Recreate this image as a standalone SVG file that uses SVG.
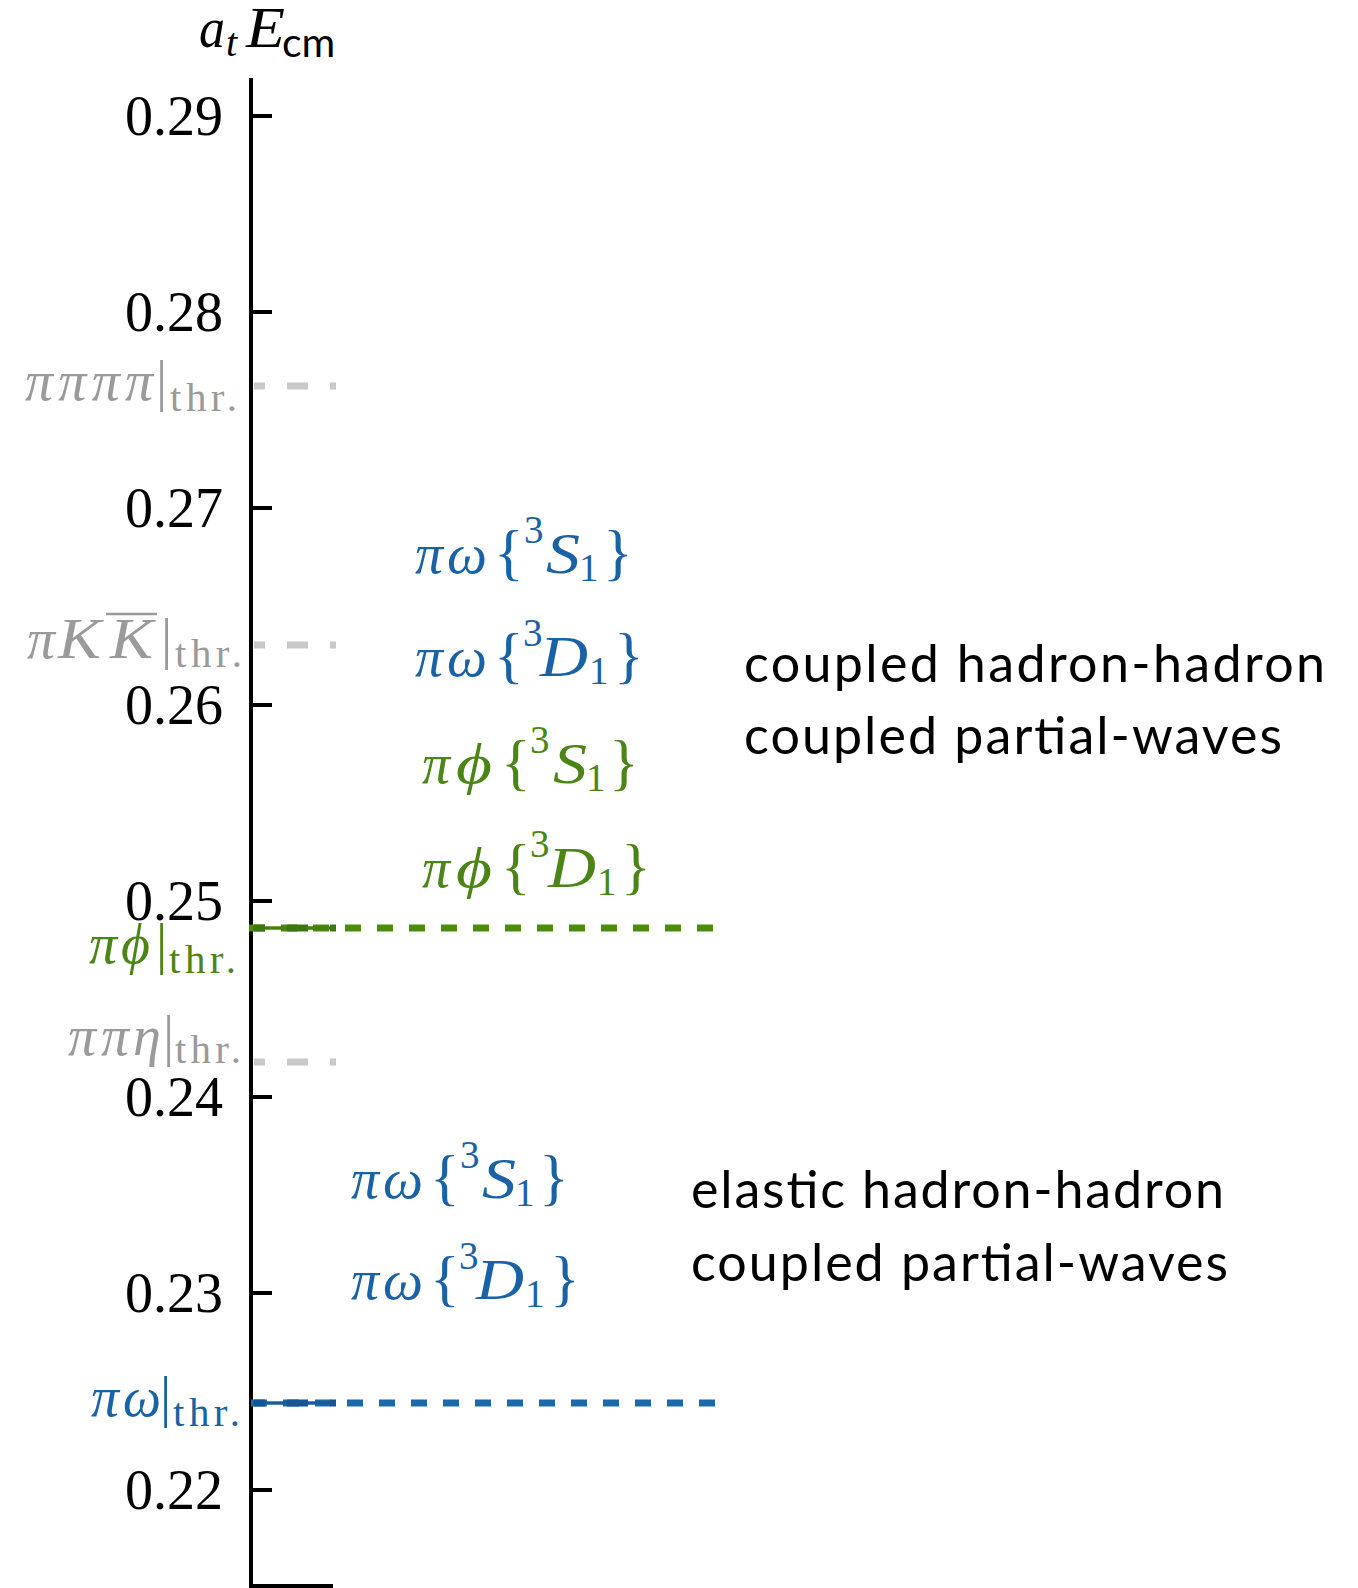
<svg xmlns="http://www.w3.org/2000/svg" width="1358" height="1588" viewBox="0 0 1358 1588">
<style>
.m{font-family:"Liberation Serif","DejaVu Serif",serif;}
.i{font-style:italic;}
.big{font-size:56px;}
.br{font-size:62px;}
.sm{font-size:39px;}
.thr{font-size:41px;}
.tick{font-family:"Liberation Serif",serif;font-size:56px;text-anchor:end;fill:#000;}
.sans{font-family:Lato,"Open Sans",sans-serif;font-size:52px;fill:#000;}
.blue{fill:#1a62a6;}
.green{fill:#4a8515;}
.gray{fill:#9a9a9a;}
</style>
<rect width="1358" height="1588" fill="#fff"/>
<g id="axis" stroke="#000" stroke-width="4" fill="none">
<line x1="251" y1="78" x2="251" y2="1588"/>
<line x1="249" y1="1586" x2="333" y2="1586"/>
<line x1="251" y1="116" x2="272" y2="116"/>
<line x1="251" y1="312" x2="272" y2="312"/>
<line x1="251" y1="508" x2="272" y2="508"/>
<line x1="251" y1="705" x2="272" y2="705"/>
<line x1="251" y1="901" x2="272" y2="901"/>
<line x1="251" y1="1097" x2="272" y2="1097"/>
<line x1="251" y1="1293" x2="272" y2="1293"/>
<line x1="251" y1="1490" x2="272" y2="1490"/>
</g>
<g id="axis-label" class="m">
<text y="47" font-size="56"><tspan x="199" class="i" textLength="26" lengthAdjust="spacingAndGlyphs">a</tspan><tspan x="226" y="56" class="i" font-size="40">t</tspan><tspan x="246" y="47" class="i" textLength="39" lengthAdjust="spacingAndGlyphs">E</tspan></text>
<text x="282" y="57" font-family="Lato,'Liberation Sans',sans-serif" font-size="41">cm</text>
</g>
<g id="tick-labels">
<text class="tick" x="223" y="135">0.29</text>
<text class="tick" x="223" y="331">0.28</text>
<text class="tick" x="223" y="527">0.27</text>
<text class="tick" x="223" y="724">0.26</text>
<text class="tick" x="223" y="920">0.25</text>
<text class="tick" x="223" y="1116">0.24</text>
<text class="tick" x="223" y="1312">0.23</text>
<text class="tick" x="223" y="1509">0.22</text>
</g>
<g id="connectors" fill="none">
<line x1="254" y1="386" x2="336" y2="386" stroke="#c8c8c8" stroke-width="7" stroke-dasharray="11 22 21 22"/>
<line x1="254" y1="645" x2="336" y2="645" stroke="#c8c8c8" stroke-width="7" stroke-dasharray="11 22 21 22"/>
<line x1="254" y1="1062" x2="336" y2="1062" stroke="#c8c8c8" stroke-width="7" stroke-dasharray="11 22 21 22"/>
<line x1="249" y1="928" x2="714" y2="928" stroke="#4e8c0b" stroke-width="7" stroke-dasharray="16 16"/>
<line x1="253" y1="928" x2="335" y2="928" stroke="#44800c" stroke-width="3.5"/>
<line x1="254" y1="928" x2="336" y2="928" stroke="#3e7610" stroke-width="7" stroke-dasharray="11 22 21 22"/>
<line x1="251" y1="1403" x2="715" y2="1403" stroke="#1c68ab" stroke-width="7" stroke-dasharray="16 16"/>
<line x1="253" y1="1403" x2="335" y2="1403" stroke="#185c9c" stroke-width="3.5"/>
<line x1="254" y1="1403" x2="336" y2="1403" stroke="#155596" stroke-width="7" stroke-dasharray="11 22 21 22"/>
</g>
<g id="thr-pipipipi" class="m gray">
<text y="400" class="big"><tspan x="25" class="i" textLength="128" lengthAdjust="spacing">ππππ</tspan><tspan x="156">|</tspan><tspan x="170" y="411" class="thr" textLength="67" lengthAdjust="spacing">thr.</tspan></text>
</g>
<g id="thr-piKK" class="m gray">
<text y="658" class="big"><tspan x="27" class="i">π</tspan><tspan x="58" class="i" textLength="43" lengthAdjust="spacingAndGlyphs">K</tspan><tspan x="110" class="i" textLength="43" lengthAdjust="spacingAndGlyphs">K</tspan><tspan x="161">|</tspan><tspan x="175" y="667" class="thr" textLength="67" lengthAdjust="spacing">thr.</tspan></text>
<line x1="106" y1="614" x2="157" y2="614" stroke="#9a9a9a" stroke-width="2.5"/>
</g>
<g id="thr-piphi" class="m green">
<text y="963" class="big"><tspan x="89" class="i">π</tspan><tspan x="121" class="i">ϕ</tspan><tspan x="156">|</tspan><tspan x="169" y="973" class="thr" textLength="67" lengthAdjust="spacing">thr.</tspan></text>
</g>
<g id="thr-pipieta" class="m gray">
<text y="1055" class="big"><tspan x="68" class="i">π</tspan><tspan x="101" class="i">π</tspan><tspan x="133" class="i">η</tspan><tspan x="163">|</tspan><tspan x="175" y="1063" class="thr" textLength="66" lengthAdjust="spacing">thr.</tspan></text>
</g>
<g id="thr-piomega" class="m blue">
<text y="1416" class="big"><tspan x="91" class="i">π</tspan><tspan x="123" class="i" textLength="38" lengthAdjust="spacingAndGlyphs">ω</tspan><tspan x="160">|</tspan><tspan x="173" y="1426" class="thr" textLength="67" lengthAdjust="spacing">thr.</tspan></text>
</g>
<g id="pw-S1-upper" class="m blue">
<text y="573" class="big"><tspan x="415" class="i">π</tspan><tspan x="447" class="i" textLength="40" lengthAdjust="spacingAndGlyphs">ω</tspan><tspan x="494" class="br">{</tspan><tspan x="524" y="543" class="sm">3</tspan><tspan x="546" y="573" class="i" textLength="34" lengthAdjust="spacingAndGlyphs">S</tspan><tspan x="579" y="581" class="sm">1</tspan><tspan x="603" y="573" class="br">}</tspan></text>
</g>
<g id="pw-D1-upper" class="m blue">
<text y="676" class="big"><tspan x="415" class="i">π</tspan><tspan x="447" class="i" textLength="40" lengthAdjust="spacingAndGlyphs">ω</tspan><tspan x="494" class="br">{</tspan><tspan x="523" y="646" class="sm">3</tspan><tspan x="540" y="676" class="i" textLength="48" lengthAdjust="spacingAndGlyphs">D</tspan><tspan x="589" y="684" class="sm">1</tspan><tspan x="614" y="676" class="br">}</tspan></text>
</g>
<g id="pphi-S1" class="m green">
<text y="783" class="big"><tspan x="422" class="i">π</tspan><tspan x="456" class="i" textLength="36" lengthAdjust="spacingAndGlyphs">ϕ</tspan><tspan x="501" class="br">{</tspan><tspan x="530" y="753" class="sm">3</tspan><tspan x="553" y="783" class="i" textLength="34" lengthAdjust="spacingAndGlyphs">S</tspan><tspan x="586" y="791" class="sm">1</tspan><tspan x="609" y="783" class="br">}</tspan></text>
</g>
<g id="pphi-D1" class="m green">
<text y="887" class="big"><tspan x="422" class="i">π</tspan><tspan x="456" class="i" textLength="36" lengthAdjust="spacingAndGlyphs">ϕ</tspan><tspan x="501" class="br">{</tspan><tspan x="530" y="857" class="sm">3</tspan><tspan x="548" y="887" class="i" textLength="48" lengthAdjust="spacingAndGlyphs">D</tspan><tspan x="597" y="895" class="sm">1</tspan><tspan x="621" y="887" class="br">}</tspan></text>
</g>
<g id="pw-S1-lower" class="m blue">
<text y="1198" class="big"><tspan x="351" class="i">π</tspan><tspan x="383" class="i" textLength="40" lengthAdjust="spacingAndGlyphs">ω</tspan><tspan x="430" class="br">{</tspan><tspan x="460" y="1168" class="sm">3</tspan><tspan x="482" y="1198" class="i" textLength="34" lengthAdjust="spacingAndGlyphs">S</tspan><tspan x="515" y="1206" class="sm">1</tspan><tspan x="539" y="1198" class="br">}</tspan></text>
</g>
<g id="pw-D1-lower" class="m blue">
<text y="1299" class="big"><tspan x="351" class="i">π</tspan><tspan x="383" class="i" textLength="40" lengthAdjust="spacingAndGlyphs">ω</tspan><tspan x="430" class="br">{</tspan><tspan x="459" y="1269" class="sm">3</tspan><tspan x="476" y="1299" class="i" textLength="48" lengthAdjust="spacingAndGlyphs">D</tspan><tspan x="525" y="1307" class="sm">1</tspan><tspan x="550" y="1299" class="br">}</tspan></text>
</g>
<g id="label-coupled">
<text class="sans" x="744" y="682" textLength="581" lengthAdjust="spacing">coupled hadron-hadron</text>
<text class="sans" x="744" y="754" textLength="538" lengthAdjust="spacing">coupled partial-waves</text>
</g>
<g id="label-elastic">
<text class="sans" x="691" y="1208" textLength="533" lengthAdjust="spacing">elastic hadron-hadron</text>
<text class="sans" x="691" y="1281" textLength="537" lengthAdjust="spacing">coupled partial-waves</text>
</g>
</svg>
